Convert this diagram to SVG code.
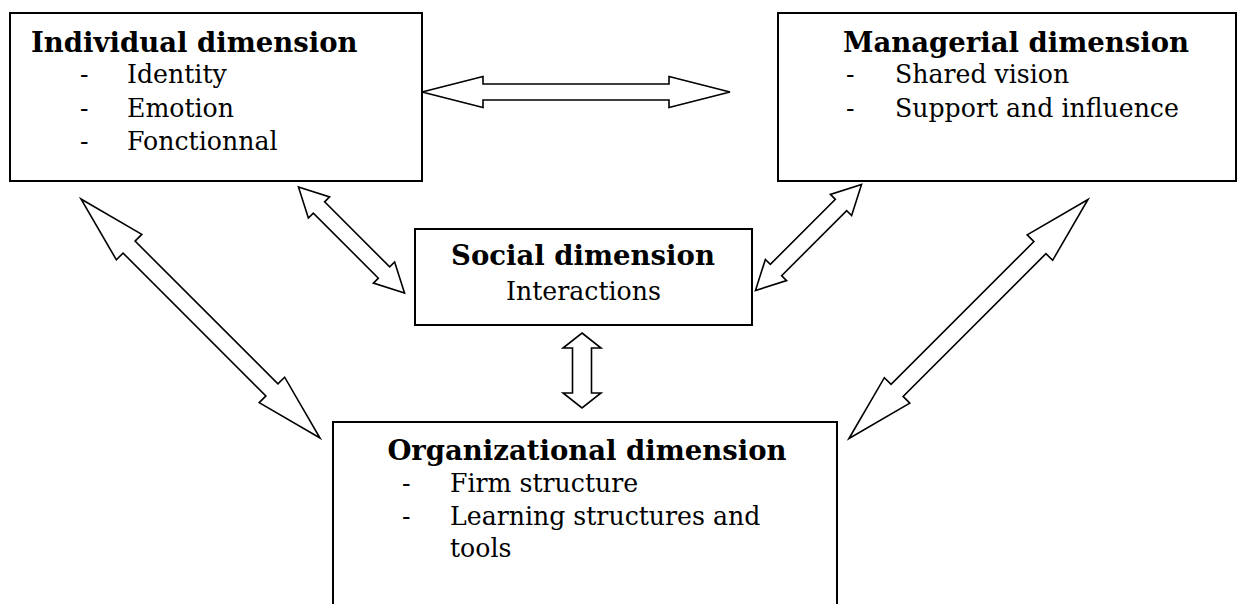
<svg xmlns="http://www.w3.org/2000/svg" width="1245" height="604" viewBox="0 0 1245 604">
<style>
.box{fill:#fff;stroke:#000;stroke-width:2}
.arr{fill:#fff;stroke:#000;stroke-width:1.6;stroke-linejoin:miter}
.h{font-family:"DejaVu Serif","Liberation Serif",serif;font-weight:bold;font-size:27.5px;fill:#000}
.t{font-family:"DejaVu Serif","Liberation Serif",serif;font-size:25.2px;fill:#000}
</style>
<rect width="1245" height="604" fill="#fff"/>
<g id="connectors">
<polygon class="arr" transform="translate(576 92)" points="-154,0 -93,-15.5 -93,-8 93,-8 93,-15.5 154,0 93,15.5 93,8 -93,8 -93,15.5"/>
<polygon class="arr" transform="translate(200.5 318.5) rotate(45)" points="-169,0 -101,-18 -101,-8.5 101,-8.5 101,-18 169,0 101,18 101,8.5 -101,8.5 -101,18"/>
<polygon class="arr" transform="translate(351.5 240) rotate(45)" points="-75,0 -46,-15 -46,-8 46,-8 46,-15 75,0 46,15 46,8 -46,8 -46,15"/>
<polygon class="arr" transform="translate(808.5 237.5) rotate(-45)" points="-75,0 -46,-15 -46,-8 46,-8 46,-15 75,0 46,15 46,8 -46,8 -46,15"/>
<polygon class="arr" transform="translate(968.5 319) rotate(-45)" points="-169,0 -101,-18 -101,-8.5 101,-8.5 101,-18 169,0 101,18 101,8.5 -101,8.5 -101,18"/>
<polygon class="arr" transform="translate(582 370.5) rotate(90)" points="-37.5,0 -22.5,-19 -22.5,-9.5 22.5,-9.5 22.5,-19 37.5,0 22.5,19 22.5,9.5 -22.5,9.5 -22.5,19"/>
</g>
<g id="individual">
<rect class="box" x="10" y="13" width="412" height="168"/>
<text class="h" x="31" y="52">Individual dimension</text>
<text class="t" x="80" y="83">-</text><text class="t" x="127" y="83">Identity</text>
<text class="t" x="80" y="117">-</text><text class="t" x="127" y="117">Emotion</text>
<text class="t" x="80" y="150">-</text><text class="t" x="127" y="150">Fonctionnal</text>
</g>
<g id="managerial">
<rect class="box" x="778" y="13" width="458" height="168"/>
<text class="h" x="843" y="52">Managerial dimension</text>
<text class="t" x="846" y="83">-</text><text class="t" x="895" y="83">Shared vision</text>
<text class="t" x="846" y="117">-</text><text class="t" x="895" y="117">Support and influence</text>
</g>
<g id="social">
<rect class="box" x="415" y="229" width="337" height="96"/>
<text class="h" x="583" y="265" text-anchor="middle">Social dimension</text>
<text class="t" x="583.5" y="300" text-anchor="middle">Interactions</text>
</g>
<g id="organizational">
<rect class="box" x="333" y="422" width="504" height="200"/>
<text class="h" x="587" y="460" text-anchor="middle">Organizational dimension</text>
<text class="t" x="402" y="492">-</text><text class="t" x="450" y="492">Firm structure</text>
<text class="t" x="402" y="525">-</text><text class="t" x="450" y="525">Learning structures and</text>
<text class="t" x="450" y="557">tools</text>
</g>
</svg>
